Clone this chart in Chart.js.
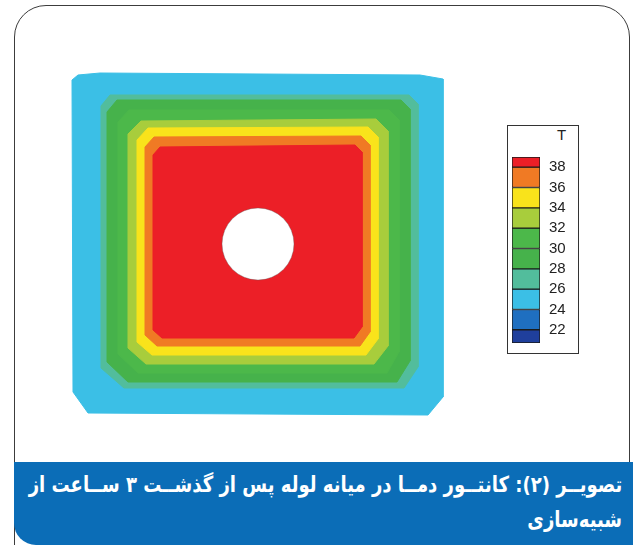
<!DOCTYPE html>
<html>
<head>
<meta charset="utf-8">
<script src="https://cdn.jsdelivr.net/npm/chart.js@4.4.1/dist/chart.umd.min.js"></script>
<style>
html, body { margin: 0; padding: 0; background: #fff; }
body { width: 635px; height: 545px; position: relative; overflow: hidden; font-family: "Liberation Sans", Arial, sans-serif; }
#frame { position: absolute; left: 14px; top: 5px; width: 616px; height: 560px; border: 1.5px solid #3c3c3c; border-radius: 32px 32px 0 0; box-sizing: border-box; }
#field { position: absolute; left: 68px; top: 68px; }
#legendBox { position: absolute; left: 507px; top: 125px; width: 72px; height: 229px; border: 1.5px solid #333; box-sizing: border-box; background: #fff; }
#bar { position: absolute; left: 512px; top: 147px; }
#tLabel { position: absolute; left: 557px; top: 126px; font-size: 15px; color: #222; }
#caption { position: absolute; left: 14px; top: 462px; width: 619px; height: 83px; background: #0b6db7;
  border-bottom-left-radius: 22px; color: #fff; direction: rtl; text-align: right;
  font-family: "DejaVu Sans Condensed", "DejaVu Sans"; font-weight: bold; font-size: 22px; line-height: 35px;
  padding: 5px 11px 0 0; box-sizing: border-box; white-space: nowrap; }
#caption span { display: inline-block; transform: scaleX(0.91); transform-origin: right center; }
</style>
</head>
<body>
<div id="frame"></div>
<canvas id="field" width="380" height="350"></canvas>
<div id="legendBox"></div>
<canvas id="bar" width="66" height="206"></canvas>
<div id="tLabel">T</div>
<div id="caption"><span>تصویــر (۲): کانتــور دمــا در میانه لوله پس از گذشــت ۳ ســاعت از</span><br><span>شبیه‌سازی</span></div>
<script>
// section outline and isotherms, x/y in section units (x right, y up)
const domain = [[4,338],[10,343],[32,345],[352,343],[375,339],[375,21],[360,3],[20,5],[5,26],[4,338]];
const iso26 = [[33,312],[42,323],[341,323],[350,314],[350,51],[336,30],[56,30],[33,50],[33,312]];
const iso28 = [[39,306],[49,318],[333,318],[342,309],[342,57],[329,36],[60,36],[39,56],[39,306]];
const iso30 = [[50,296],[61,308],[321,308],[331,298],[331,66],[319,45],[70,45],[50,64],[50,296]];
const iso32 = [[60,284],[73,297],[308,299],[320,287],[320,72],[306,54],[78,54],[60,70],[60,284]];
const iso34 = [[69,278],[80,290],[300,291],[310,281],[310,79],[298,63],[84,63],[69,76],[69,278]];
const iso36 = [[77,271],[86,281],[293,282],[302,273],[302,86],[292,72],[89,72],[77,83],[77,271]];
const iso38 = [[85,263],[92,271],[287,273],[294,266],[294,91],[286,80],[94,80],[85,88],[85,263]];
const pipe = [{x: 190, y: 174}];

// colour scale T
const tickLabels = [38, 36, 34, 32, 30, 28, 26, 24, 22];
const bandLow  = [38, 36, 34, 32, 30, 28, 26, 24, 22, 20.7];
const bandHigh = [39, 38, 36, 34, 32, 30, 28, 26, 24, 22];
const bandColors = ['#ec1f27', '#f07a24', '#f9e31b', '#a8cd3c', '#4cb84a', '#46b24b', '#52bd9c', '#3bbfe6', '#1f6fc0', '#1f3f9c'];

// region colours, outer to inner: 24-26, 26-28, 28-30, 30-32, 32-34, 34-36, 36-38, >38
const regions = [domain, iso26, iso28, iso30, iso32, iso34, iso36, iso38];
const regionColors = ['#3bbfe6', '#52bd9c', '#46b24b', '#4cb84a', '#a8cd3c', '#f9e31b', '#f07a24', '#ec1f27'];

const fieldSets = regions.map((pts, i) => ({
    type: 'scatter',
    data: pts.map(p => ({x: p[0], y: p[1]})),
    showLine: true,
    fill: 'shape',
    backgroundColor: regionColors[i],
    borderColor: regionColors[i],
    borderWidth: 1,
    pointRadius: 0,
    tension: 0,
    order: regions.length - i + 1
}));
fieldSets.push({
    type: 'scatter',
    data: pipe,
    pointRadius: 36,
    pointBackgroundColor: '#ffffff',
    pointBorderColor: 'rgba(90,90,90,0.35)',
    pointBorderWidth: 1,
    order: 0
});

new Chart(document.getElementById('field'), {
    type: 'scatter',
    data: { datasets: fieldSets },
    options: {
        responsive: false,
        animation: false,
        events: [],
        layout: { padding: 0, autoPadding: false },
        plugins: { legend: { display: false }, tooltip: { enabled: false } },
        scales: {
            x: { type: 'linear', min: 0, max: 380, display: false },
            y: { type: 'linear', min: 0, max: 350, display: false }
        }
    }
});

new Chart(document.getElementById('bar'), {
    type: 'bar',
    data: {
        labels: ['T'],
        datasets: bandColors.map((c, i) => ({
            data: [[bandLow[i], bandHigh[i]]],
            backgroundColor: c,
            borderColor: '#1a1a1a',
            borderWidth: 1,
            borderSkipped: false,
            grouped: false,
            barPercentage: 1,
            categoryPercentage: 1
        }))
    },
    options: {
        responsive: false,
        animation: false,
        events: [],
        layout: { padding: { top: 10, bottom: 10, left: 0, right: 0 } },
        plugins: { legend: { display: false }, tooltip: { enabled: false } },
        scales: {
            x: { display: false },
            y: {
                position: 'right',
                min: 20.7,
                max: 39,
                grid: { display: false, drawTicks: false },
                border: { display: false },
                afterBuildTicks: axis => { axis.ticks = tickLabels.map(v => ({ value: v })); },
                afterFit: axis => { axis.paddingTop = 0; axis.paddingBottom = 0; axis.width = 38; },
                ticks: {
                    color: '#222',
                    padding: 9,
                    font: { family: 'Liberation Sans', size: 15 }
                }
            }
        }
    }
});
</script>
</body>
</html>
